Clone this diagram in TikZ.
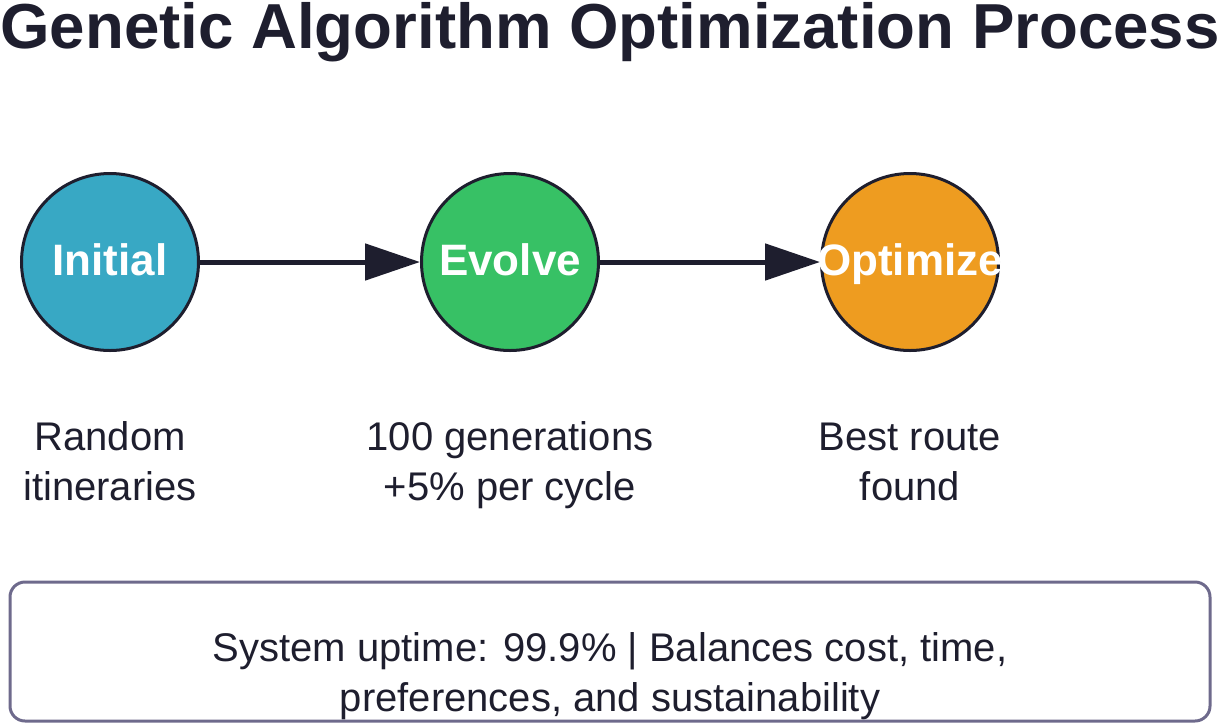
\documentclass[tikz,border=0pt]{standalone}
\usepackage{fontspec}
\setmainfont{Liberation Sans}
\usetikzlibrary{arrows.meta}
\definecolor{ink}{HTML}{1E1E2E}
\definecolor{cblue}{HTML}{38A8C4}
\definecolor{cgreen}{HTML}{37C165}
\definecolor{corange}{HTML}{EE9C20}
\definecolor{boxline}{HTML}{6E6A8C}
\newcommand{\ctrtext}[1]{\makebox[0pt][c]{#1}}
\tikzset{
  stage/.style={circle, draw=ink, line width=3pt, minimum size=177pt, inner sep=0pt,
    text height=31pt, text depth=4pt,
    text=white, font=\bfseries\fontsize{44}{50}\selectfont},
  caption/.style={align=center, text=ink, font=\fontsize{40}{50}\selectfont, anchor=base},
  flow/.style={draw=ink, line width=5pt, -{Triangle[length=55pt, width=36pt]}},
}
\begin{document}
\begin{tikzpicture}[x=1pt, y=-1pt]
\useasboundingbox (0,0) rectangle (1220,724);
\node[anchor=base, text=ink, font=\bfseries\fontsize{63.6}{75}\selectfont] (title) at (610,48) {Genetic Algorithm Optimization Process};
\node[stage, fill=cblue] (init) at (110,262) {\ctrtext{Initial}};
\node[stage, fill=cgreen] (evol) at (510,262) {\ctrtext{Evolve}};
\node[stage, fill=corange] (opt) at (910,262) {\ctrtext{Optimize}};
\draw[flow] (init) -- (evol);
\draw[flow] (evol) -- (opt);
\node[caption] (l1) at (110,500) {Random\\itineraries};
\node[caption] (l2) at (510,500) {100 generations\\+5\% per cycle};
\node[caption] (l3) at (910,500) {Best route\\found};
\draw[boxline, line width=3pt, rounded corners=15pt] (10,582) rectangle (1210,721);
\node[caption] (sum) at (610,711) {System uptime: 99.9\% | Balances cost, time,\\preferences, and sustainability};
\end{tikzpicture}
\end{document}
